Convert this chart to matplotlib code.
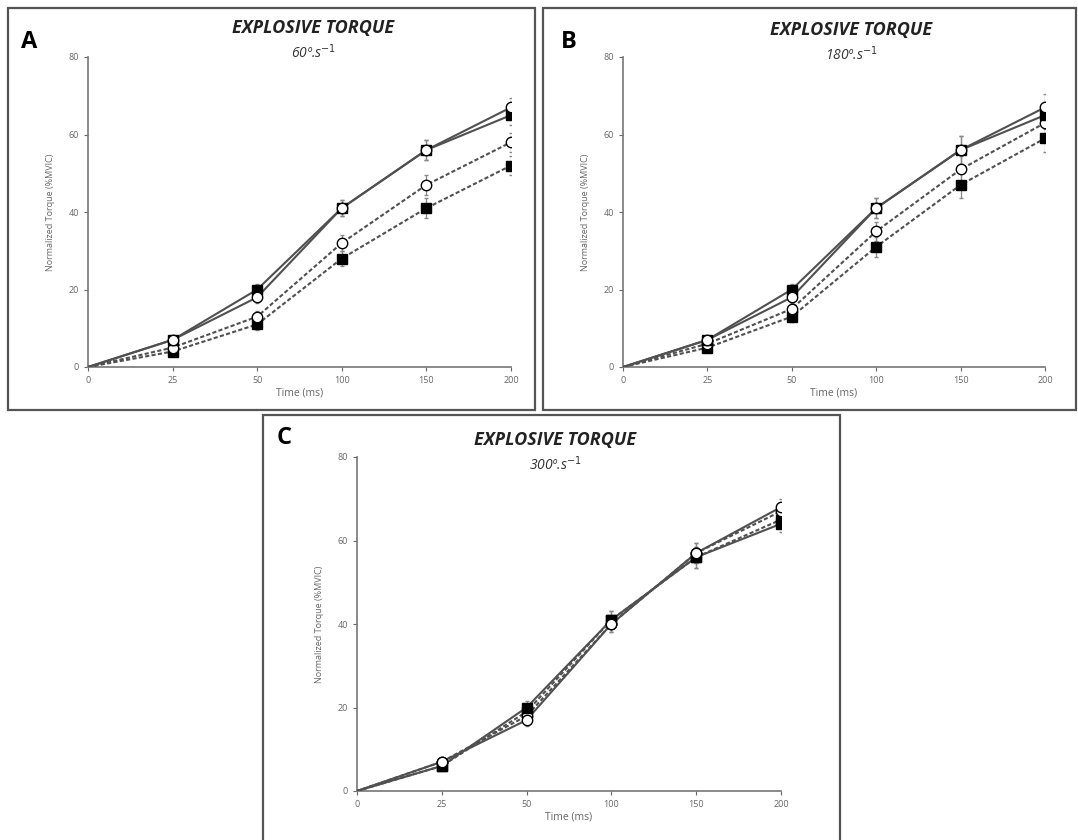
import numpy as np
import matplotlib.pyplot as plt
from matplotlib.patches import Rectangle

# time points (categorical, evenly spaced on the axis)
time_labels = ['0', '25', '50', '100', '150', '200']

# panel A, 60º/s
a_sq_solid = [0, 7, 20, 41, 56, 65]
a_ci_solid = [0, 7, 18, 41, 56, 67]
a_sq_dash = [0, 4, 11, 28, 41, 52]
a_ci_dash = [0, 5, 13, 32, 47, 58]
a_err = [0, 1, 1.5, 2, 2.5, 2.5]

# panel B, 180º/s
b_sq_solid = [0, 7, 20, 41, 56, 65]
b_ci_solid = [0, 7, 18, 41, 56, 67]
b_sq_dash = [0, 5, 13, 31, 47, 59]
b_ci_dash = [0, 6, 15, 35, 51, 63]
b_err = [0, 1, 1.5, 2.5, 3.5, 3.5]

# panel C, 300º/s
c_sq_solid = [0, 6, 20, 41, 56, 64]
c_ci_solid = [0, 7, 17, 40, 57, 68]
c_sq_dash = [0, 6, 19, 41, 56, 65]
c_ci_dash = [0, 7, 18, 40, 57, 67]
c_err = [0, 1, 1.5, 2, 2.5, 2]

plt.rcParams['font.family'] = ['Open Sans', 'DejaVu Sans']

fig = plt.figure(figsize=(10.78, 8.4), dpi=100)
W, H = 1078, 840


def px_rect(x0, y0, x1, y1):
    return [x0 / W, 1 - y1 / H, (x1 - x0) / W, (y1 - y0) / H]


# panel frames
for (x0, y0, x1, y1) in [(8, 8, 535, 410), (543, 8, 1076, 410), (263, 415, 840, 845)]:
    r = px_rect(x0, y0, x1, y1)
    fig.patches.append(Rectangle((r[0], r[1]), r[2], r[3], transform=fig.transFigure,
                                 fill=False, edgecolor='#555555', linewidth=1.6))


def draw_panel(rect, sq_s, ci_s, sq_d, ci_d, err, letter, speed, letter_xy, title_xy):
    ax = fig.add_axes(px_rect(*rect))
    x = np.arange(len(time_labels))
    grey = '#505050'
    for y, ls, mk, fc in [(sq_d, (0, (2.0, 1.1)), 's', 'black'),
                          (ci_d, (0, (2.0, 1.1)), 'o', 'white'),
                          (sq_s, '-', 's', 'black'),
                          (ci_s, '-', 'o', 'white')]:
        ax.errorbar(x[1:], y[1:], yerr=err[1:], fmt='none', ecolor='#888888',
                    elinewidth=0.9, capsize=1.5, zorder=2)
        ax.plot(x, y, linestyle=ls, color=grey, linewidth=1.5, zorder=3)
        ax.plot(x[1:], y[1:], linestyle='none', marker=mk, markersize=7.5,
                markerfacecolor=fc, markeredgecolor='black', markeredgewidth=1.0, zorder=4)
    ax.set_xlim(0, 5)
    ax.set_ylim(0, 80)
    ax.set_xticks(x)
    ax.set_xticklabels(time_labels)
    ax.set_yticks([0, 20, 40, 60, 80])
    for s in ['top', 'right']:
        ax.spines[s].set_visible(False)
    for s in ['left', 'bottom']:
        ax.spines[s].set_color('#777777')
        ax.spines[s].set_linewidth(1.2)
    ax.tick_params(colors='#666666', labelsize=6.5, length=3, width=0.8, direction='out')
    ax.set_ylabel('Normalized Torque (%MVIC)', fontsize=6.5, color='#666666', labelpad=10)
    ax.set_xlabel('Time (ms)', fontsize=7.5, color='#666666', labelpad=2)
    fig.text(letter_xy[0] / W, 1 - letter_xy[1] / H, letter, fontsize=17, fontweight='bold',
             ha='left', va='center')
    fig.text(title_xy[0] / W, 1 - title_xy[1] / H, 'EXPLOSIVE TORQUE', fontsize=13,
             fontweight='bold', fontstyle='italic', ha='center', va='center', color='#222222')
    fig.text(title_xy[0] / W, 1 - (title_xy[1] + 25) / H, speed, fontsize=10,
             fontstyle='italic', ha='center', va='center', color='#333333')
    return ax


draw_panel((88, 57, 511, 367), a_sq_solid, a_ci_solid, a_sq_dash, a_ci_dash, a_err,
           'A', '60º.s$^{-1}$', (21, 42), (313, 28))
draw_panel((623, 57, 1045, 367), b_sq_solid, b_ci_solid, b_sq_dash, b_ci_dash, b_err,
           'B', '180º.s$^{-1}$', (561, 42), (851, 30))
draw_panel((357, 457, 781, 791), c_sq_solid, c_ci_solid, c_sq_dash, c_ci_dash, c_err,
           'C', '300º.s$^{-1}$', (277, 438), (555, 440))

fig.savefig('out.png', dpi=100, facecolor='white')
